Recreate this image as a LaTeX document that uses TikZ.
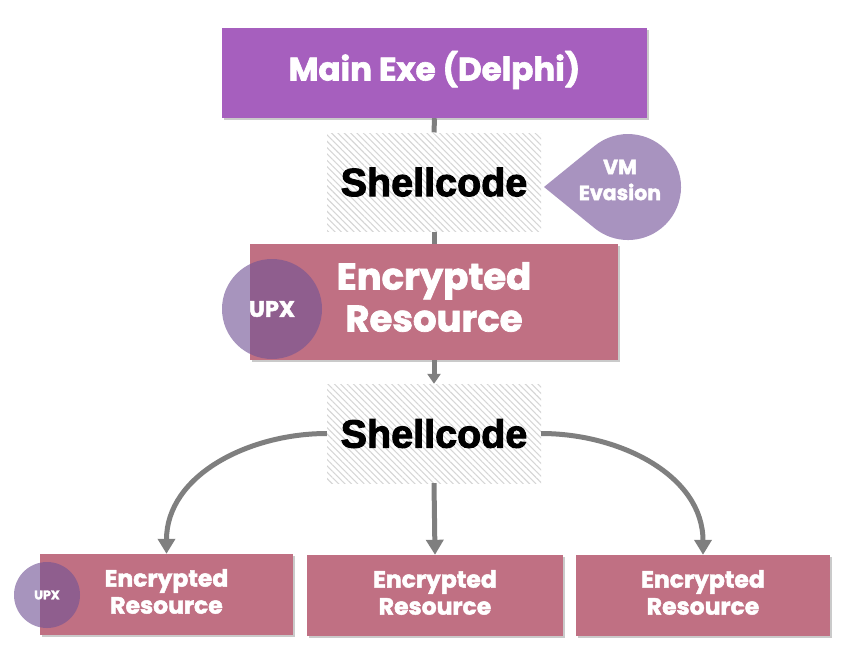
\documentclass[tikz,border=0pt]{standalone}
\usepackage{fontspec}
\setmainfont{Poppins}[BoldFeatures={FakeBold=2}]
\newfontfamily\shellfont{Liberation Sans}[BoldFeatures={FakeBold=2.5}]
\usetikzlibrary{arrows.meta,shadows,patterns.meta}
\definecolor{mainpurple}{HTML}{A65FBE}
\definecolor{encpink}{HTML}{C07083}
\definecolor{vmlav}{HTML}{A893BF}
\definecolor{upxpurple}{HTML}{735596}
\definecolor{linegray}{HTML}{7F7F7F}
\definecolor{hatchgray}{HTML}{D6D6D6}
\tikzset{
  box/.style={rectangle, inner sep=0pt,
    drop shadow={shadow xshift=1.5pt, shadow yshift=-2pt, opacity=0.35, fill=black!60}},
  boxtext/.style={inner sep=0pt, align=center, text=white, font=\bfseries},
  shellbox/.style={rectangle, inner sep=0pt, align=center, text=black,
    minimum width=214pt, minimum height=98pt,
    pattern={Lines[angle=-45,distance=4.5pt,line width=1.1pt]}, pattern color=hatchgray,
    font=\shellfont\bfseries\fontsize{39.5}{42}\selectfont},
  conn/.style={draw=linegray, line width=5pt},
  smalltip/.style={-{Triangle[width=13pt,length=10pt]}},
  bigtip/.style={-{Triangle[width=17pt,length=15pt]}},
  upx/.style={circle, inner sep=0pt, fill=upxpurple, fill opacity=0.63, text opacity=1, text=white, font=\bfseries},
  smallbox/.style={box, fill=encpink, minimum height=81pt},
  smalltext/.style={boxtext, font=\bfseries\fontsize{23.5}{27}\selectfont},
}
\begin{document}
\begin{tikzpicture}[x=1pt,y=-1pt]
\useasboundingbox (0,0) rectangle (858,667);
% main boxes
\node[box, fill=mainpurple, minimum width=425pt, minimum height=90pt] (main) at (434.5,73) {};
\node[boxtext, font=\bfseries\fontsize{32.5}{36}\selectfont] (maintext) at ([yshift=3pt]main.center) {Main Exe (Delphi)};
\node[shellbox] (sc1) at (434,182) {Shellcode};
\node[box, fill=encpink, minimum width=368pt, minimum height=116pt] (enc) at (434,302) {};
\node[boxtext, font=\bfseries\fontsize{37}{42}\selectfont] (enctext) at ([yshift=5pt]enc.center) {Encrypted\\Resource};
\node[shellbox, minimum height=99pt] (sc2) at (434,433.5) {Shellcode};
\node[smallbox, minimum width=253pt] (b1) at (166.5,594.5) {};
\node[smalltext] (b1text) at ([yshift=3pt]b1.center) {Encrypted\\Resource};
\node[smallbox, minimum width=256pt] (b2) at (435,595.5) {};
\node[smalltext] (b2text) at ([yshift=3pt]b2.center) {Encrypted\\Resource};
\node[smallbox, minimum width=254pt] (b3) at (703,595.5) {};
\node[smalltext] (b3text) at ([yshift=3pt]b3.center) {Encrypted\\Resource};
% VM evasion teardrop
\fill[vmlav] (544,187) -- (594.6,145.9) arc[start angle=-129.1, end angle=129.1, radius=53] -- cycle;
\node[align=center, text=white, font=\bfseries\fontsize{20.5}{26}\selectfont] (vm) at (620,180) {VM\\Evasion};
% UPX circles
\node[upx, minimum size=100pt, font=\bfseries\fontsize{22.5}{24}\selectfont] (upx1) at (272,309) {UPX};
\node[upx, minimum size=66pt, font=\bfseries\fontsize{12.5}{14}\selectfont] (upx2) at (47,595) {UPX};
% connectors
\draw[conn] (main.south) -- (sc1.north);
\draw[conn] (sc1.south) -- (enc.north);
\draw[conn, smalltip] (enc.south) -- (sc2.north);
\draw[conn, bigtip] (sc2.west) to[out=180,in=90] (b1.north);
\draw[conn, bigtip] (sc2.south) -- (b2.north);
\draw[conn, bigtip] (sc2.east) to[out=0,in=90] (b3.north);
\end{tikzpicture}
\end{document}
